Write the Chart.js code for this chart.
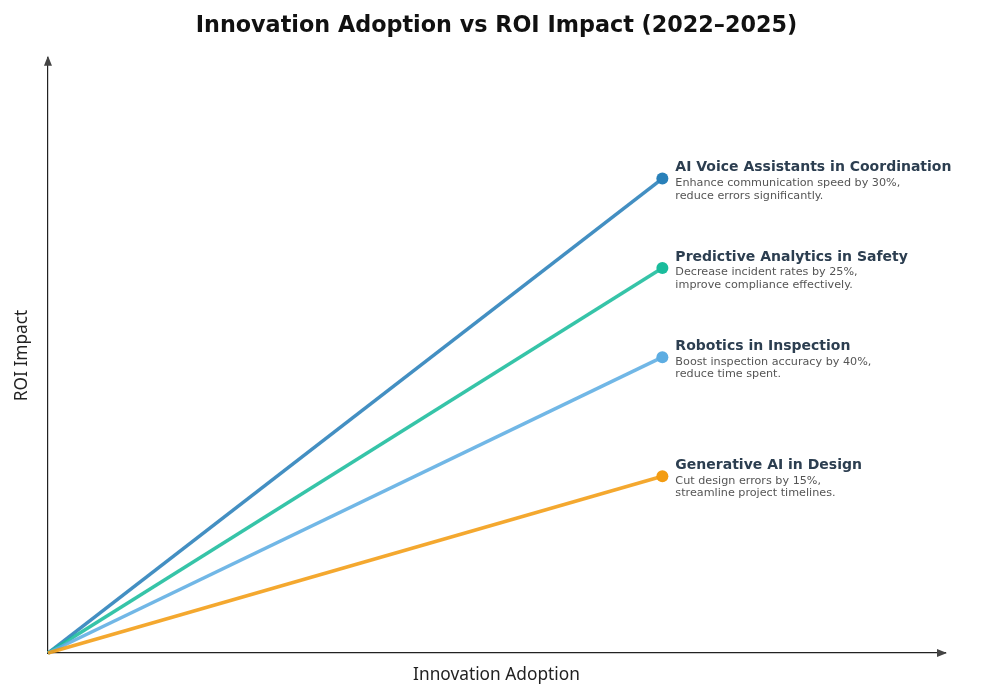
<!DOCTYPE html>
<html>
<head>
<meta charset="utf-8">
<title>Innovation Adoption vs ROI Impact</title>
<script src="https://cdn.jsdelivr.net/npm/chart.js@4/dist/chart.umd.min.js"></script>
<style>
  html, body { margin: 0; padding: 0; background: #fff; }
  #wrap { width: 1000px; height: 700px; }
</style>
</head>
<body>
<div id="wrap"><canvas id="roiChart"></canvas></div>
<script>
const innovations = [
  "AI Voice Assistants in Coordination",
  "Predictive Analytics in Safety",
  "Robotics in Inspection",
  "Generative AI in Design"
];
const descriptions = [
  ["Enhance communication speed by 30%,", "reduce errors significantly."],
  ["Decrease incident rates by 25%,", "improve compliance effectively."],
  ["Boost inspection accuracy by 40%,", "reduce time spent."],
  ["Cut design errors by 15%,", "streamline project timelines."]
];
const adoption = [0, 1];
const roiVoice = [0, 0.797];
const roiSafety = [0, 0.647];
const roiInspection = [0, 0.497];
const roiDesign = [0, 0.297];
const lineColors = ["rgba(41,128,185,0.88)", "rgba(26,188,156,0.88)", "rgba(93,173,226,0.88)", "rgba(243,156,18,0.88)"];
const dotColors = ["#2980b9", "#1abc9c", "#5dade2", "#f39c12"];

function makeSeries(i, values) {
  return {
    label: innovations[i],
    data: adoption.map((x, k) => ({ x: x, y: values[k] })),
    borderColor: lineColors[i],
    borderWidth: 3.5,
    pointRadius: [0, 6],
    pointHoverRadius: [0, 6],
    pointBackgroundColor: dotColors[i],
    pointBorderWidth: 0,
    tension: 0,
    fill: false,
    clip: false,
    descIndex: i
  };
}

// arrowheads on both axes and the notes next to each end point
const annotate = {
  id: "annotate",
  afterDraw(chart) {
    const ctx = chart.ctx;
    const xs = chart.scales.x, ys = chart.scales.y;
    const ox = xs.getPixelForValue(xs.min), oy = ys.getPixelForValue(ys.min);
    const xe = xs.getPixelForValue(xs.max), ye = ys.getPixelForValue(ys.max);
    ctx.save();
    ctx.fillStyle = "#444";
    ctx.beginPath();
    ctx.moveTo(ox, ye - 2);
    ctx.lineTo(ox - 4, ye + 8);
    ctx.lineTo(ox + 4, ye + 8);
    ctx.closePath();
    ctx.fill();
    ctx.beginPath();
    ctx.moveTo(xe + 2, oy);
    ctx.lineTo(xe - 8, oy - 4);
    ctx.lineTo(xe - 8, oy + 4);
    ctx.closePath();
    ctx.fill();

    chart.data.datasets.forEach((ds, d) => {
      const meta = chart.getDatasetMeta(d);
      const pt = meta.data[meta.data.length - 1];
      const i = ds.descIndex;
      ctx.textAlign = "left";
      ctx.textBaseline = "middle";
      ctx.fillStyle = "#2c3e50";
      ctx.font = "bold 14px 'DejaVu Sans'";
      ctx.fillText(innovations[i], pt.x + 13, pt.y - 11);
      ctx.fillStyle = "#555";
      ctx.font = "11.2px 'DejaVu Sans'";
      descriptions[i].forEach((line, k) => {
        ctx.fillText(line, pt.x + 13, pt.y + 4.5 + k * 12.5);
      });
    });
    ctx.restore();
  }
};

new Chart(document.getElementById("roiChart"), {
  type: "line",
  data: {
    datasets: [
      makeSeries(3, roiDesign),
      makeSeries(2, roiInspection),
      makeSeries(1, roiSafety),
      makeSeries(0, roiVoice)
    ]
  },
  options: {
    responsive: true,
    maintainAspectRatio: false,
    animation: false,
    layout: { padding: { left: 4, right: 55, bottom: 6, top: 0 } },
    plugins: {
      legend: { display: false },
      tooltip: { enabled: false },
      title: {
        display: true,
        fullSize: false,
        text: "Innovation Adoption vs ROI Impact (2022–2025)",
        color: "#111",
        font: { family: "'DejaVu Sans'", size: 22.3, weight: "bold" },
        padding: { top: 13, bottom: 18 }
      }
    },
    scales: {
      x: {
        type: "linear",
        min: 0,
        max: 1.46,
        grid: { display: false },
        ticks: { display: false },
        border: { display: true, color: "#222", width: 1.2 },
        title: {
          display: true,
          text: "Innovation Adoption",
          color: "#222",
          font: { family: "'Noto Sans'", size: 17.3 },
          padding: { top: 3.6, bottom: 8.6 }
        }
      },
      y: {
        type: "linear",
        min: 0,
        max: 1,
        grid: { display: false },
        ticks: { display: false },
        border: { display: true, color: "#222", width: 1.2 },
        title: {
          display: true,
          text: "ROI Impact",
          color: "#222",
          font: { family: "'Noto Sans'", size: 17.3 },
          padding: { top: 7.6, bottom: 7.6 }
        }
      }
    }
  },
  plugins: [annotate]
});
</script>
</body>
</html>
